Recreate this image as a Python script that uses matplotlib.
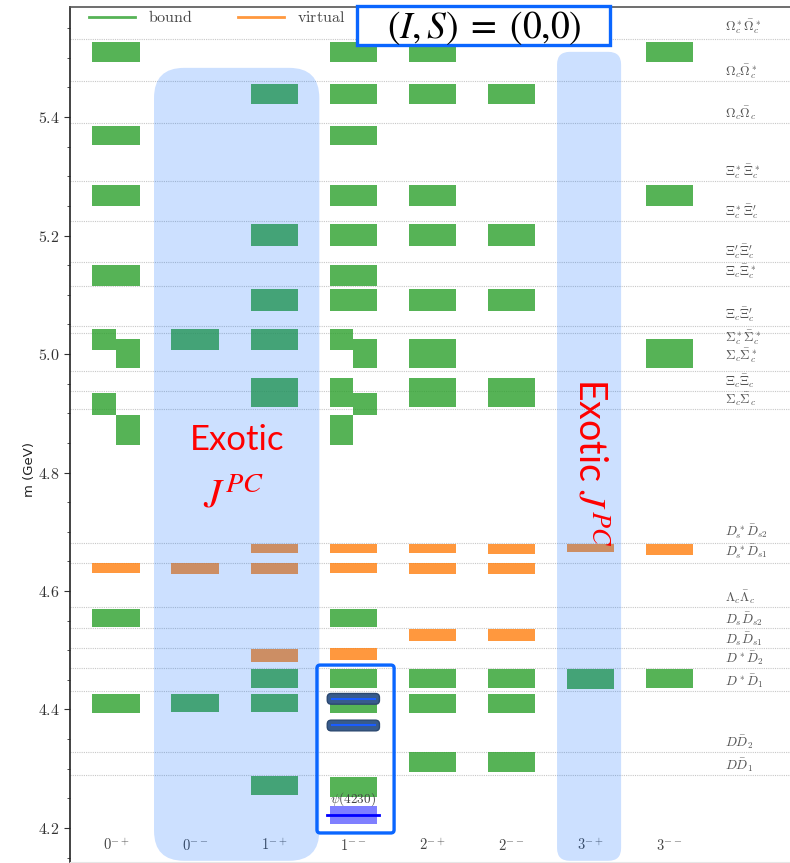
import numpy as np
import matplotlib
matplotlib.use("Agg")
import matplotlib.pyplot as plt
from matplotlib.patches import FancyBboxPatch, Rectangle
from matplotlib.lines import Line2D
from matplotlib.ticker import MultipleLocator, FuncFormatter

plt.rcParams['mathtext.fontset'] = 'cm'

# J^PC columns
jpc_labels = [r'$0^{-+}$', r'$0^{--}$', r'$1^{-+}$', r'$1^{--}$',
              r'$2^{-+}$', r'$2^{--}$', r'$3^{-+}$', r'$3^{--}$']

# hadron-hadron thresholds (GeV)
thr_names = [r'$\Omega_c^*\bar\Omega_c^*$', r'$\Omega_c\bar\Omega_c^*$', r'$\Omega_c\bar\Omega_c$',
             r'$\Xi_c^*\bar\Xi_c^*$', r"$\Xi_c^*\bar\Xi_c'$", r"$\Xi_c'\bar\Xi_c'$",
             r'$\Xi_c\bar\Xi_c^*$', r"$\Xi_c\bar\Xi_c'$", r'$\Sigma_c^*\bar\Sigma_c^*$',
             r'$\Sigma_c\bar\Sigma_c^*$', r'$\Xi_c\bar\Xi_c$', r'$\Sigma_c\bar\Sigma_c$',
             r'$D_s^*\bar D_{s2}$', r'$D_s^*\bar D_{s1}$', r'$\Lambda_c\bar\Lambda_c$',
             r'$D_s\bar D_{s2}$', r'$D_s\bar D_{s1}$', r'$D^*\bar D_2$', r'$D^*\bar D_1$',
             r'$D\bar D_2$', r'$D\bar D_1$']
thr_mass = [5.532, 5.461, 5.390, 5.292, 5.224, 5.156, 5.115, 5.047, 5.036, 4.972,
            4.938, 4.908, 4.681, 4.647, 4.573, 4.537, 4.503, 4.470, 4.431, 4.328, 4.289]

# predicted states: column index, mass range, bound (b) or virtual (v)
bar_col = [0, 0, 0, 0, 0, 0, 0, 0, 0, 0, 0,
           1, 1, 1,
           2, 2, 2, 2, 2, 2, 2, 2, 2, 2, 2,
           3, 3, 3, 3, 3, 3, 3, 3, 3, 3, 3, 3, 3, 3, 3, 3, 3, 3, 3,
           4, 4, 4, 4, 4, 4, 4, 4, 4, 4, 4, 4, 4,
           5, 5, 5, 5, 5, 5, 5, 5, 5, 5,
           6, 6,
           7, 7, 7, 7, 7]
bar_lo = [5.493, 5.352, 5.250, 5.115, 5.006, 4.977, 4.897, 4.846, 4.630, 4.539, 4.394,
          5.006, 4.629, 4.395,
          5.422, 5.183, 5.073, 5.006, 4.911, 4.664, 4.629, 4.480, 4.436, 4.395, 4.255,
          5.493, 5.422, 5.352, 5.250, 5.183, 5.115, 5.073, 5.006, 4.977, 4.911, 4.897, 4.846,
          4.664, 4.630, 4.539, 4.484, 4.436, 4.394, 4.252,
          5.493, 5.422, 5.250, 5.183, 5.073, 4.977, 4.911, 4.664, 4.629, 4.516, 4.436, 4.394, 4.294,
          5.422, 5.183, 5.073, 4.911, 4.663, 4.629, 4.516, 4.436, 4.394, 4.294,
          4.666, 4.435,
          5.493, 5.250, 4.977, 4.661, 4.437]
bar_hi = [5.526, 5.385, 5.286, 5.151, 5.042, 5.025, 4.934, 4.897, 4.647, 4.570, 4.427,
          5.042, 4.647, 4.427,
          5.456, 5.219, 5.110, 5.042, 4.960, 4.680, 4.647, 4.502, 4.469, 4.427, 4.287,
          5.526, 5.456, 5.385, 5.286, 5.219, 5.151, 5.110, 5.042, 5.025, 4.960, 4.934, 4.897,
          4.680, 4.647, 4.570, 4.503, 4.469, 4.427, 4.286,
          5.526, 5.456, 5.286, 5.219, 5.110, 5.025, 4.960, 4.680, 4.647, 4.536, 4.469, 4.427, 4.328,
          5.456, 5.219, 5.110, 4.960, 4.680, 4.647, 4.536, 4.469, 4.427, 4.328,
          4.680, 4.469,
          5.526, 5.286, 5.025, 4.680, 4.469]
bar_kind = ['b', 'b', 'b', 'b', 'b', 'b', 'b', 'b', 'v', 'b', 'b',
            'b', 'v', 'b',
            'b', 'b', 'b', 'b', 'b', 'v', 'v', 'v', 'b', 'b', 'b',
            'b', 'b', 'b', 'b', 'b', 'b', 'b', 'b', 'b', 'b', 'b', 'b',
            'v', 'v', 'b', 'v', 'b', 'b', 'b',
            'b', 'b', 'b', 'b', 'b', 'b', 'b', 'v', 'v', 'v', 'b', 'b', 'b',
            'b', 'b', 'b', 'b', 'v', 'v', 'v', 'b', 'b', 'b',
            'v', 'b',
            'b', 'b', 'b', 'v', 'b']

# experimental vector states
psi_mass, psi_lo, psi_hi = 4.222, 4.207, 4.237
marked_mass = [4.418, 4.373]
marked_lo = [4.409, 4.364]
marked_hi = [4.427, 4.382]

colors = {'b': '#2ca02c', 'v': '#ff7f0e'}
W = 0.6

fig = plt.figure(figsize=(7.9, 8.63), dpi=100)
ax = fig.add_axes([70 / 790, 1 / 863, 1 - 70 / 790, 855 / 863])
ylo, yhi = 4.1426, 5.5857
xlo, xhi = -0.582, 8.52
ax.set_xlim(xlo, xhi)
ax.set_ylim(ylo, yhi)

# aspect ratio for round corners in data units
px_x = ax.bbox.width / (xhi - xlo)
px_y = ax.bbox.height / (yhi - ylo)
asp = px_x / px_y

for m in thr_mass:
    ax.axhline(m, color='#c8c8c8', lw=0.8, ls=(0, (1, 1)), zorder=1)

# states of one column that overlap are split into half-width bars
n = len(bar_col)
for c in range(len(jpc_labels)):
    idx = sorted([i for i in range(n) if bar_col[i] == c], key=lambda i: -bar_hi[i])
    groups = []
    for i in idx:
        if groups and bar_hi[i] >= min(bar_lo[j] for j in groups[-1]):
            groups[-1].append(i)
        else:
            groups.append([i])
    for g in groups:
        for k, i in enumerate(g):
            if len(g) == 1:
                x0, w = c - W / 2, W
            else:
                x0, w = (c - W / 2, W / 2) if k % 2 == 0 else (c, W / 2)
            ax.bar(x0, bar_hi[i] - bar_lo[i], width=w, bottom=bar_lo[i], align='edge',
                   color=colors[bar_kind[i]], alpha=0.8, lw=0, zorder=2)

# psi(4230)
ax.fill_between([3 - W / 2, 3 + W / 2], psi_lo, psi_hi, color='blue', alpha=0.5, lw=0, zorder=3)
ax.plot([3 - 0.33, 3 + 0.33], [psi_mass, psi_mass], color='blue', lw=2, zorder=3)
ax.text(3, psi_hi - 0.003, r'$\psi(4230)$', ha='center', va='bottom', fontsize=9.5,
        color='#444444', zorder=3)

for m, lo, hi in zip(marked_mass, marked_lo, marked_hi):
    ax.add_patch(FancyBboxPatch((3 - 0.33, lo), 0.66, hi - lo,
                                boxstyle='round,pad=0,rounding_size=0.05', mutation_aspect=asp,
                                fc='#385b8c', ec='#2b4870', lw=1, zorder=5))
    ax.plot([3 - 0.27, 3 + 0.27], [m, m], color='#1a5cff', lw=1.5, zorder=6)

# column labels and threshold labels
for c, lab in enumerate(jpc_labels):
    ax.text(c, 4.171, lab, ha='center', va='center', fontsize=10.5, color='#444444')

nudge = {0: 0.02, 6: 0.024, 7: 0.019, 8: -0.0085, 9: 0.0245, 12: 0.0185, 13: 0.019}
for k, (name, m) in enumerate(zip(thr_names, thr_mass)):
    ax.text(7.70, m + nudge.get(k, 0.016), name, ha='left', va='center', fontsize=9.5, color='#555555')

# exotic J^PC shading
for (x0, x1, top, r) in [(0.48, 2.57, 5.483, 0.38), (5.575, 6.385, 5.510, 0.16)]:
    ax.add_patch(FancyBboxPatch((x0, ylo + 0.002), x1 - x0, top - ylo - 0.002,
                                boxstyle=f'round,pad=0,rounding_size={r}', mutation_aspect=asp,
                                fc=(0.0, 0.4, 1.0), alpha=0.2, ec='none', zorder=4, clip_on=False))

ax.text(1.53, 4.855, 'Exotic', ha='center', va='center', fontsize=25, color='red',
        family='Lato', zorder=7)
ax.text(1.49, 4.762, r'$J^{PC}$', ha='center', va='center', fontsize=29, color='red',
        math_fontfamily='stix', zorder=7)
ax.text(5.99, 4.818, r'Exotic $J^{PC}$', ha='center', va='center', fontsize=27, color='red',
        family='Lato', math_fontfamily='stix', rotation=270, zorder=7)

# box around the 1-- states below 4.48 GeV
ax.add_patch(FancyBboxPatch((2.54, 4.1916), 3.515 - 2.54, 4.475 - 4.1916,
                            boxstyle='round,pad=0,rounding_size=0.04', mutation_aspect=asp,
                            fc='none', ec='#0a66ff', lw=2.4, zorder=8))

# legend
handles = [Line2D([], [], color=colors['b'], alpha=0.8, lw=2),
           Line2D([], [], color=colors['v'], alpha=0.8, lw=2)]
leg = ax.legend(handles, [r'$\mathrm{bound}$', r'$\mathrm{virtual}$'], loc='upper left',
                bbox_to_anchor=(0.0175, 1.005), ncol=2, frameon=False, fontsize=11.5,
                handlelength=2.9, handletextpad=0.8, columnspacing=2.8, borderaxespad=0)
for t in leg.get_texts():
    t.set_color('#444444')

# axes styling
ax.set_xticks([])
ax.yaxis.set_major_locator(MultipleLocator(0.2))
ax.yaxis.set_minor_locator(MultipleLocator(0.05))
ax.yaxis.set_major_formatter(FuncFormatter(lambda v, _: f'${v:.1f}$'))
ax.tick_params(axis='y', which='major', length=4, width=0.8, labelsize=11.5, colors='#333333')
ax.tick_params(axis='y', which='minor', length=2.5, width=0.6, colors='#333333')
ax.spines['right'].set_visible(False)
ax.spines['left'].set_color('#222222')
ax.spines['left'].set_linewidth(1.2)
ax.spines['top'].set_color('#555555')
ax.spines['top'].set_linewidth(1.2)
ax.spines['bottom'].set_color('#e6e6e6')
ax.set_ylabel('m (GeV)', fontsize=9.5, color='#222222')
ax.yaxis.set_label_coords(-0.047, 0.4585)

# isospin / strangeness tag
fig.patches.append(Rectangle((357 / 790, 1 - 45 / 863), 253 / 790, 39 / 863, transform=fig.transFigure,
                             fc='white', ec='#0a66ff', lw=2.4, zorder=10))
fig.text(484 / 790, 1 - 28 / 863, r'$(I,S)\;=\;(0{,}0)$', ha='center', va='center', fontsize=27,
         math_fontfamily='stix', color='black', zorder=11)

fig.savefig('out.png', dpi=100)
